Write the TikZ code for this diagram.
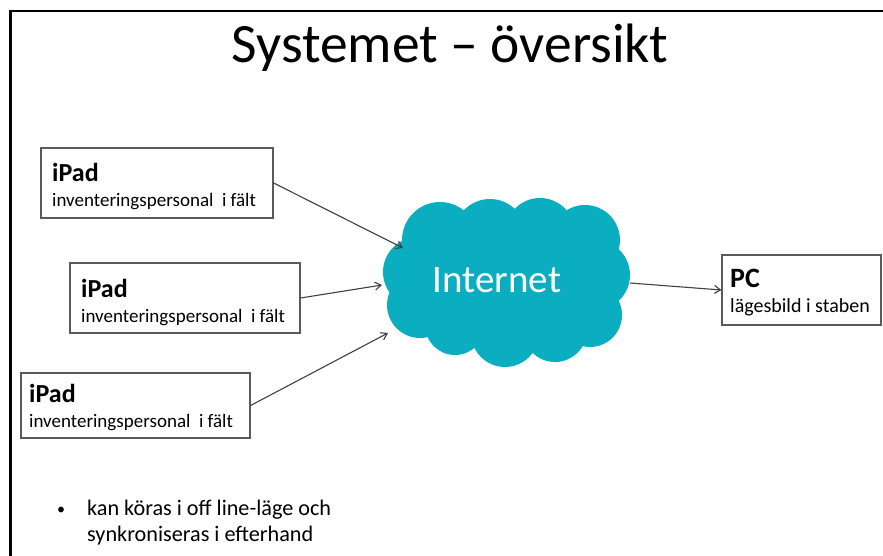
\documentclass[tikz,border=0pt]{standalone}
\usepackage{fontspec}
\setmainfont{Carlito}
\usetikzlibrary{arrows.meta}
\definecolor{cloudteal}{RGB}{11,174,192}
\definecolor{boxgray}{RGB}{90,90,90}
\definecolor{arrgray}{RGB}{64,64,64}
\tikzset{
  devbox/.style={draw=boxgray, line width=1.2pt, fill=white, inner sep=0pt},
  lbl/.style={anchor=base west, inner sep=0pt},
  arr/.style={draw=arrgray, line width=1.1pt, -{Straight Barb[length=6pt,width=8pt]}},
  puff/.style={fill=cloudteal, draw=none}
}
\begin{document}
\begin{tikzpicture}[x=1pt,y=-1pt]
\useasboundingbox (0,0) rectangle (883,556);
\fill[white] (0,0) rectangle (883,556);
% frame
\draw[line width=2.6pt, black] (10.5,556) -- (10.5,11) -- (883,11);
% title
\node[anchor=base, inner sep=0pt] (title) at (450,63) {\fontsize{55.5}{60}\selectfont Systemet – översikt};
% cloud
\fill[puff] (506,283) ellipse [x radius=110, y radius=68];
\foreach \cx/\cy/\r in {440/240/38, 490/235/36, 540/233/35, 585/240/35, 595/275/35, 590/315/32, 555/330/32, 505/333/34, 455/325/30, 420/305/33, 418/272/35}
  \fill[puff] (\cx,\cy) circle [radius=\r];
\node[inner sep=0pt, minimum width=248pt, minimum height=170pt] (cloud) at (506,283) {};
\node[anchor=base, inner sep=0pt, text=white] (inet) at (497,292) {\fontsize{39}{44}\selectfont Internet};
% boxes
\node[devbox, minimum width=232pt, minimum height=70pt] (box1) at (157,183) {};
\node[lbl] (b1t) at (52,182) {\fontsize{26}{30}\selectfont\bfseries iPad};
\node[lbl] (b1s) at (52,207) {\fontsize{19}{22}\selectfont inventeringspersonal\ \ i fält};
\node[devbox, minimum width=230pt, minimum height=70pt] (box2) at (185,298) {};
\node[lbl] (b2t) at (81,297) {\fontsize{26}{30}\selectfont\bfseries iPad};
\node[lbl] (b2s) at (81,322) {\fontsize{19}{22}\selectfont inventeringspersonal\ \ i fält};
\node[devbox, minimum width=229pt, minimum height=65pt] (box3) at (135.5,405.5) {};
\node[lbl] (b3t) at (29,402) {\fontsize{26}{30}\selectfont\bfseries iPad};
\node[lbl] (b3s) at (29,427) {\fontsize{19}{22}\selectfont inventeringspersonal\ \ i fält};
\node[devbox, minimum width=159pt, minimum height=70pt] (pc) at (801.5,290) {};
\node[lbl] (pct) at (730,287) {\fontsize{28}{32}\selectfont\bfseries PC};
\node[lbl] (pcs) at (730,312) {\fontsize{20}{24}\selectfont lägesbild i staben};
% connector ends on cloud
\coordinate (c1) at (403,248);
\coordinate (c2) at (382,285);
\coordinate (c3) at (388,333);
\coordinate (c4) at (630,283);
\draw[arr] (box1.east) -- (c1);
\draw[arr] (box2.east) -- (c2);
\draw[arr] (box3.east) -- (c3);
\draw[arr] (c4) -- (pc.west);
% bullet text
\node[lbl] (bul) at (57,514) {\fontsize{16}{20}\selectfont •};
\node[lbl] (l1) at (87,515) {\fontsize{22.2}{26}\selectfont kan köras i off line-läge och};
\node[lbl] (l2) at (87,541) {\fontsize{22.2}{26}\selectfont synkroniseras i efterhand};
\end{tikzpicture}
\end{document}
